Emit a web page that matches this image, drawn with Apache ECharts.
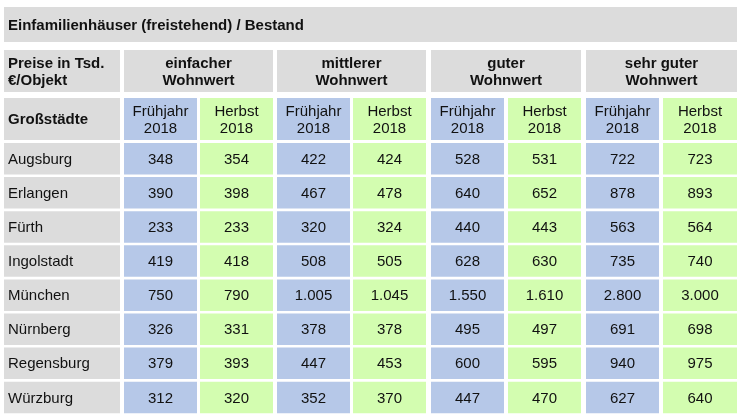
<!DOCTYPE html>
<html>
<head>
<meta charset="utf-8">
<script src="https://cdn.jsdelivr.net/npm/echarts@6/dist/echarts.min.js"></script>
<style>html,body{margin:0;background:#fff}#main{width:743px;height:417px}</style>
</head>
<body>
<div id="main"></div>
<script>
var title = 'Einfamilienhäuser (freistehend) / Bestand';
var groups = ['einfacher\nWohnwert', 'mittlerer\nWohnwert', 'guter\nWohnwert', 'sehr guter\nWohnwert'];
var seasons = ['Frühjahr\n2018', 'Herbst\n2018'];
var cities = ['Augsburg', 'Erlangen', 'Fürth', 'Ingolstadt', 'München', 'Nürnberg', 'Regensburg', 'Würzburg'];
var values = [
    ['348', '354', '422', '424', '528', '531', '722', '723'],
    ['390', '398', '467', '478', '640', '652', '878', '893'],
    ['233', '233', '320', '324', '440', '443', '563', '564'],
    ['419', '418', '508', '505', '628', '630', '735', '740'],
    ['750', '790', '1.005', '1.045', '1.550', '1.610', '2.800', '3.000'],
    ['326', '331', '378', '378', '495', '497', '691', '698'],
    ['379', '393', '447', '453', '600', '595', '940', '975'],
    ['312', '320', '352', '370', '447', '470', '627', '640']
];

var GRAY = '#dcdcdc', BLUE = '#b6c8e8', GREEN = '#d3fdb0';
// Spaltengrenzen (Rasterkoordinaten)
var colX = [0, 120, 196, 273, 349, 427, 504, 582, 659];
var colW = [116, 73, 73, 73, 73, 73, 73, 73, 74];
var rowY = [0, 43, 91];
var rowH = [35, 42, 42];
var dataTop = 136, pitch = 34.1, dataH = 31.5;

var cells = [];
// [x0, y0, x1, y1, text, color, bold, align, size]
cells.push([0, rowY[0], 733, rowY[0] + rowH[0], title, GRAY, 1, 'left', 15]);
cells.push([0, rowY[1], colW[0], rowY[1] + rowH[1], 'Preise in Tsd.\n€/Objekt', GRAY, 1, 'left', 15]);
for (var g = 0; g < groups.length; g++) {
    var a = colX[1 + g * 2], b = colX[2 + g * 2] + colW[2 + g * 2];
    cells.push([a, rowY[1], b, rowY[1] + rowH[1], groups[g], GRAY, 1, 'center', 15]);
}
cells.push([0, rowY[2], colW[0], rowY[2] + rowH[2], 'Großstädte', GRAY, 1, 'left', 15]);
for (var c = 1; c <= 8; c++) {
    cells.push([colX[c], rowY[2], colX[c] + colW[c], rowY[2] + rowH[2], seasons[(c - 1) % 2], (c % 2) ? BLUE : GREEN, 0, 'center', 15]);
}
for (var r = 0; r < cities.length; r++) {
    var y0 = dataTop + r * pitch;
    cells.push([0, y0, colW[0], y0 + dataH, cities[r], GRAY, 0, 'left', 15]);
    for (var c = 1; c <= 8; c++) {
        cells.push([colX[c], y0, colX[c] + colW[c], y0 + dataH, values[r][c - 1], (c % 2) ? BLUE : GREEN, 0, 'center', 15]);
    }
}

var chart = echarts.init(document.getElementById('main'));
chart.setOption({
    animation: false,
    grid: {left: 4, right: 6, top: 7, bottom: 3},
    xAxis: {type: 'value', min: 0, max: 733, show: false},
    yAxis: {type: 'value', min: 0, max: 407, inverse: true, show: false},
    series: [{
        type: 'custom',
        data: cells,
        renderItem: function (params, api) {
            var p0 = api.coord([api.value(0), api.value(1)]);
            var p1 = api.coord([api.value(2), api.value(3)]);
            var d = cells[params.dataIndex];
            var left = d[7] === 'left';
            return {
                type: 'group',
                children: [{
                    type: 'rect',
                    shape: {x: p0[0], y: p0[1], width: p1[0] - p0[0], height: p1[1] - p0[1]},
                    style: {fill: d[5]}
                }, {
                    type: 'text',
                    x: left ? p0[0] + 4 : (p0[0] + p1[0]) / 2,
                    y: (p0[1] + p1[1]) / 2 + 1,
                    style: {
                        text: d[4],
                        fill: '#111',
                        font: (d[6] ? 'bold ' : '') + d[8] + 'px "Liberation Sans", Arial, sans-serif',
                        align: left ? 'left' : 'center',
                        verticalAlign: 'middle',
                        lineHeight: 17
                    }
                }]
            };
        }
    }]
});
</script>
</body>
</html>
